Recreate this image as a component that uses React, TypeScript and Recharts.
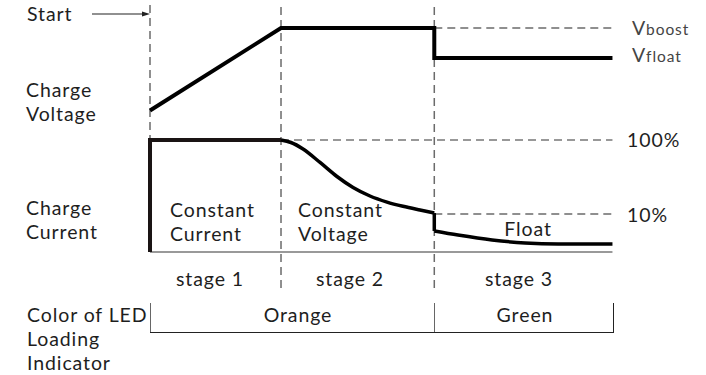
import React from 'react';
import { ComposedChart, Line, XAxis, YAxis, ReferenceLine } from 'recharts';

// time axis in hours; stage boundaries
const T_START = 0;
const T_CV = 1;
const T_FLOAT = 2.17;
const T_END = 3.53;

// voltage levels (V)
const V_BOOST = 14.4;
const V_FLOAT = 13.6;

// current levels (% of bulk), schematic log scale
const I_FULL = 100;
const I_TAIL = 10;
const I_BASE = 3.06;
const I_TOP = Math.pow(10, 3.8243);

const voltage = [
  { t: T_START, v: 12.2 },
  { t: T_CV, v: V_BOOST },
  { t: T_FLOAT, v: V_BOOST },
  { t: T_FLOAT, v: V_FLOAT },
  { t: T_END, v: V_FLOAT },
];

const bulkCurrent = [
  { t: T_START, i: I_BASE },
  { t: T_START, i: I_FULL },
  { t: T_CV, i: I_FULL },
];

const absorbCurrent = [
  { t: 1, i: 100 },
  { t: 1.076, i: 92.5 },
  { t: 1.168, i: 75.6 },
  { t: 1.298, i: 49.7 },
  { t: 1.427, i: 32.1 },
  { t: 1.55, i: 22.8 },
  { t: 1.679, i: 17.5 },
  { t: 1.809, i: 14.5 },
  { t: 1.931, i: 12.7 },
  { t: 2.061, i: 11.3 },
  { t: 2.17, i: 10.3 },
];

const dropCurrent = [
  { t: 2.17, i: 10.3 },
  { t: 2.17, i: 5.9 },
];

const floatCurrent = [
  { t: 2.17, i: 5.9 },
  { t: 2.351, i: 5.2 },
  { t: 2.611, i: 4.46 },
  { t: 2.863, i: 4.06 },
  { t: 3.115, i: 3.93 },
  { t: 3.53, i: 3.93 },
];

const stageLabels = ['stage 1', 'stage 2', 'stage 3'];
const ledLabels = ['Orange', 'Green'];

const W = 706;
const H = 375;
const FONT = 'Lato, "Open Sans", sans-serif';
const DASH = '8 5';
const GUIDE = '#6b6b6b';
const LINE_H = 24;

// y is the centre of the first line
const Label = ({ x, y, lines, center, size = 19.5, color = '#1e1e1e' }: any) => (
  <div
    style={{
      position: 'absolute',
      left: x,
      top: y - LINE_H / 2,
      transform: center ? 'translateX(-50%)' : undefined,
      fontSize: size,
      lineHeight: `${LINE_H}px`,
      color,
      whiteSpace: 'nowrap',
      letterSpacing: 0.9,
    }}
  >
    {lines.map((l: any, k: number) => (
      <React.Fragment key={k}>
        {k > 0 && <br />}
        {l}
      </React.Fragment>
    ))}
  </div>
);

export default function App() {
  return (
    <div style={{ position: 'absolute', left: 0, top: 0, width: W, height: H, background: '#fff', fontFamily: FONT, overflow: 'hidden' }}>
      <ComposedChart width={W} height={H} margin={{ top: 5, right: 0, bottom: 87, left: 0 }}>
        <XAxis type="number" dataKey="t" domain={[-1.145, 4.244]} allowDataOverflow hide />
        <YAxis yAxisId="v" type="number" domain={[7.4667, 15.0133]} allowDataOverflow hide />
        <YAxis yAxisId="i" type="number" scale="log" domain={[1, I_TOP]} allowDataOverflow hide />

        <ReferenceLine yAxisId="i" segment={[{ x: T_START, y: I_TOP }, { x: T_START, y: I_BASE }]} stroke={GUIDE} strokeDasharray={DASH} strokeWidth={1.5} />
        <ReferenceLine yAxisId="v" x={T_CV} stroke={GUIDE} strokeDasharray={DASH} strokeWidth={1.5} />
        <ReferenceLine yAxisId="v" x={T_FLOAT} stroke={GUIDE} strokeDasharray={DASH} strokeWidth={1.5} />
        <ReferenceLine yAxisId="v" segment={[{ x: T_FLOAT, y: V_BOOST }, { x: T_END, y: V_BOOST }]} stroke={GUIDE} strokeDasharray={DASH} strokeWidth={1.5} />
        <ReferenceLine yAxisId="i" segment={[{ x: T_CV, y: I_FULL }, { x: T_END, y: I_FULL }]} stroke="#333" strokeDasharray={DASH} strokeWidth={1.2} />
        <ReferenceLine yAxisId="i" segment={[{ x: T_FLOAT, y: I_TAIL }, { x: T_END, y: I_TAIL }]} stroke={GUIDE} strokeDasharray={DASH} strokeWidth={1.5} />
        <ReferenceLine yAxisId="i" segment={[{ x: T_START, y: I_BASE }, { x: T_END, y: I_BASE }]} stroke="#777" strokeWidth={1.5} />

        <Line yAxisId="v" data={voltage} dataKey="v" type="linear" stroke="#000" strokeWidth={4} dot={false} isAnimationActive={false} />
        <Line yAxisId="i" data={bulkCurrent} dataKey="i" type="linear" stroke="#1a1414" strokeWidth={4} dot={false} isAnimationActive={false} />
        <Line yAxisId="i" data={absorbCurrent} dataKey="i" type="monotone" stroke="#000" strokeWidth={3.5} dot={false} isAnimationActive={false} />
        <Line yAxisId="i" data={dropCurrent} dataKey="i" type="linear" stroke="#000" strokeWidth={3.5} dot={false} isAnimationActive={false} />
        <Line yAxisId="i" data={floatCurrent} dataKey="i" type="monotone" stroke="#000" strokeWidth={3.5} dot={false} isAnimationActive={false} />
      </ComposedChart>

      <svg width={W} height={H} style={{ position: 'absolute', left: 0, top: 0, pointerEvents: 'none' }}>
        <line x1={92} y1={14} x2={144} y2={14} stroke="#222" strokeWidth={1.2} />
        <polygon points="150,14 142,11.5 142,16.5" fill="#222" />
        <line x1={150.5} y1={303} x2={150.5} y2={332} stroke="#666" strokeWidth={1} />
        <line x1={434.5} y1={303} x2={434.5} y2={332} stroke="#666" strokeWidth={1} />
        <line x1={613.5} y1={303} x2={613.5} y2={332} stroke="#222" strokeWidth={1} />
        <line x1={150} y1={332.5} x2={614} y2={332.5} stroke="#222" strokeWidth={1} />
      </svg>

      <Label x={27} y={14} lines={['Start']} />
      <Label x={26} y={90} lines={['Charge', 'Voltage']} />
      <Label x={26} y={208} lines={['Charge', 'Current']} />
      <Label x={170} y={210} lines={['Constant', 'Current']} />
      <Label x={298} y={210} lines={['Constant', 'Voltage']} />
      <Label x={528} y={229} center lines={['Float']} />

      <Label x={632} y={28} color="#444" lines={[<>V<span style={{ fontSize: 15.5 }}>boost</span></>]} />
      <Label x={632} y={55} color="#444" lines={[<>V<span style={{ fontSize: 15.5 }}>float</span></>]} />
      <Label x={627} y={140} lines={['100%']} />
      <Label x={627} y={215} lines={['10%']} />

      <Label x={210} y={279} center lines={[stageLabels[0]]} />
      <Label x={350} y={279} center lines={[stageLabels[1]]} />
      <Label x={519} y={279} center lines={[stageLabels[2]]} />

      <Label x={27} y={315} lines={['Color of LED', 'Loading', 'Indicator']} />
      <Label x={298} y={315} center lines={[ledLabels[0]]} />
      <Label x={525} y={315} center lines={[ledLabels[1]]} />
    </div>
  );
}
